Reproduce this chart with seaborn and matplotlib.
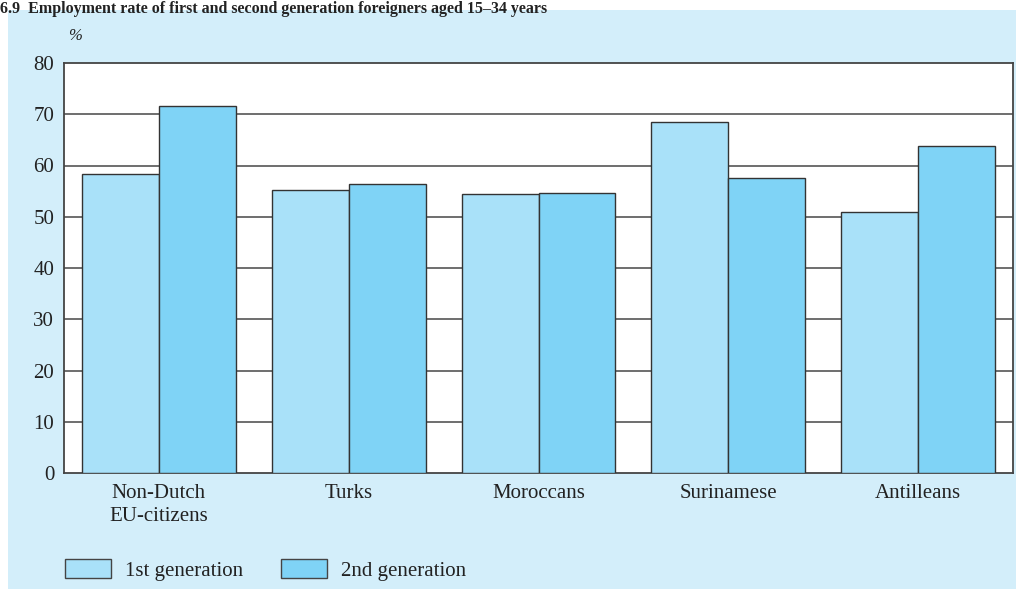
import matplotlib
matplotlib.use("Agg")
import matplotlib.pyplot as plt
from matplotlib.patches import Rectangle, Patch
import seaborn as sns
import pandas as pd

categories = ["Non-Dutch\nEU-citizens", "Turks", "Moroccans", "Surinamese", "Antilleans"]
first_gen = [58.3, 55.2, 54.5, 68.5, 50.9]
second_gen = [71.6, 56.4, 54.7, 57.6, 63.8]
series_names = ["1st generation", "2nd generation"]
y_ticks = [0, 10, 20, 30, 40, 50, 60, 70, 80]

colors = ["#A9E1F9", "#7FD3F6"]
bg = "#D3EEFA"

df = pd.DataFrame({
    "category": categories * 2,
    "value": first_gen + second_gen,
    "generation": [series_names[0]] * len(categories) + [series_names[1]] * len(categories),
})

sns.set_style("white")
plt.rcParams["font.family"] = ["Liberation Serif", "DejaVu Serif"]

fig = plt.figure(figsize=(10.16, 5.89), dpi=100)
fig.patch.set_facecolor("white")
fig.patches.append(Rectangle((8 / 1016, 0), 1, 1 - 10 / 589, transform=fig.transFigure,
                             facecolor=bg, edgecolor="none", zorder=-10))

ax = fig.add_axes([64 / 1016, 1 - 473 / 589, (1013 - 64) / 1016, (473 - 63) / 589])
ax.set_facecolor("white")

sns.barplot(data=df, x="category", y="value", hue="generation", palette=colors,
            width=0.81, saturation=1, edgecolor="#333333", linewidth=1.0,
            ax=ax, legend=False, zorder=3)

ax.set_ylim(0, 80)
ax.set_xlim(-0.5, len(categories) - 0.5)
ax.set_yticks(y_ticks)
ax.set_yticklabels([str(t) for t in y_ticks], fontsize=15, color="#222222")
ax.tick_params(axis="x", labelsize=15, colors="#222222", length=0, pad=8)
ax.tick_params(axis="y", length=0, pad=7)
for lbl in ax.get_xticklabels():
    lbl.set_color("#222222")
    lbl.set_linespacing(1.25)
ax.set_xlabel("")
ax.set_ylabel("")
for t in y_ticks[1:-1]:
    ax.axhline(t, color="#555555", linewidth=1.2, zorder=1)
for s in ax.spines.values():
    s.set_visible(True)
    s.set_color("#444444")
    s.set_linewidth(1.3)

fig.text(68 / 1016, 1 - 36 / 589, "%", fontsize=12, style="italic", color="#222222",
         va="center", ha="left")

fig.text(0.0, 1 - 1 / 589,
         "6.9  Employment rate of first and second generation foreigners aged 15\u201334 years",
         fontsize=11.5, fontweight="bold", color="#222222", va="top", ha="left", zorder=20)

handles = [Patch(facecolor=colors[i], edgecolor="#444444", linewidth=1.0, label=series_names[i])
           for i in range(2)]
fig.legend(handles=handles, loc="center left", bbox_to_anchor=(46 / 1016, 1 - 570 / 589),
           ncol=2, frameon=False, fontsize=15, handlelength=2.2, handleheight=1.05,
           handletextpad=0.7, columnspacing=1.8, labelcolor="#222222")

fig.savefig("out.png", dpi=100, facecolor=fig.get_facecolor())
